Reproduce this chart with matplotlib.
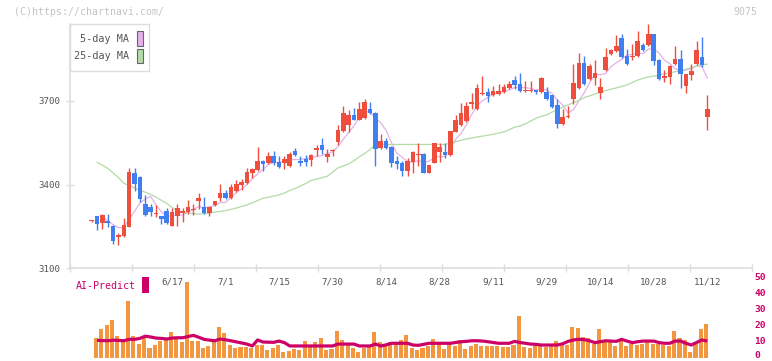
import matplotlib
matplotlib.use("Agg")
import matplotlib.pyplot as plt
import numpy as np
from matplotlib.patches import Rectangle

# ---------------- data ----------------
opens = [3268, 3288, 3263, 3268, 3252, 3213, 3216, 3249, 3441, 3427,
         3330, 3320, 3294, 3288, 3305, 3252, 3288, 3300, 3302, 3310,
         3341, 3320, 3298, 3327, 3352, 3370, 3352, 3377, 3398, 3406,
         3441, 3452, 3485, 3477, 3502, 3481, 3477, 3467, 3520, 3486,
         3492, 3488, 3524, 3542, 3499, 3519, 3553, 3592, 3614, 3650,
         3632, 3638, 3671, 3657, 3531, 3556, 3535, 3485, 3478, 3449,
         3481, 3505, 3510, 3442, 3478, 3517, 3517, 3506, 3589, 3614,
         3628, 3689, 3671, 3724, 3732, 3721, 3724, 3732, 3746, 3775,
         3760, 3734, 3734, 3739, 3732, 3732, 3721, 3685, 3617, 3641,
         3707, 3746, 3835, 3778, 3782, 3728, 3810, 3867, 3878, 3925,
         3860, 3859, 3860, 3900, 3900, 3939, 3846, 3784, 3785, 3832,
         3850, 3753, 3792, 3832, 3857, 3642]
highs = [3272, 3289, 3295, 3295, 3254, 3228, 3280, 3459, 3459, 3431,
         3363, 3330, 3327, 3289, 3316, 3316, 3330, 3316, 3345, 3330,
         3370, 3355, 3321, 3343, 3402, 3381, 3402, 3416, 3420, 3459,
         3458, 3535, 3487, 3517, 3520, 3502, 3502, 3517, 3531, 3502,
         3506, 3510, 3542, 3567, 3528, 3528, 3614, 3682, 3667, 3674,
         3696, 3707, 3696, 3659, 3583, 3567, 3537, 3502, 3485, 3495,
         3520, 3549, 3512, 3472, 3551, 3549, 3549, 3594, 3650, 3692,
         3696, 3728, 3760, 3789, 3746, 3753, 3760, 3760, 3771, 3789,
         3800, 3771, 3771, 3741, 3785, 3750, 3723, 3707, 3671, 3682,
         3832, 3871, 3860, 3832, 3846, 3782, 3889, 3888, 3936, 3939,
         3886, 3904, 3950, 3907, 3975, 3941, 3850, 3810, 3828, 3897,
         3882, 3796, 3832, 3915, 3929, 3721]
lows = [3266, 3238, 3242, 3249, 3187, 3183, 3214, 3247, 3378, 3339,
        3287, 3287, 3284, 3260, 3259, 3250, 3252, 3266, 3295, 3291,
        3312, 3296, 3287, 3325, 3341, 3350, 3350, 3375, 3381, 3404,
        3424, 3450, 3449, 3475, 3470, 3461, 3456, 3465, 3504, 3468,
        3467, 3467, 3502, 3510, 3481, 3502, 3542, 3590, 3589, 3630,
        3630, 3636, 3655, 3467, 3528, 3529, 3463, 3456, 3431, 3431,
        3442, 3467, 3440, 3440, 3476, 3481, 3495, 3504, 3587, 3612,
        3626, 3671, 3669, 3720, 3696, 3719, 3720, 3730, 3744, 3742,
        3732, 3731, 3731, 3725, 3730, 3705, 3676, 3603, 3615, 3639,
        3690, 3744, 3757, 3775, 3757, 3707, 3808, 3864, 3876, 3855,
        3830, 3846, 3858, 3880, 3898, 3828, 3776, 3767, 3760, 3830,
        3746, 3728, 3775, 3830, 3821, 3596]
closes = [3270, 3260, 3291, 3262, 3199, 3219, 3255, 3445, 3402, 3348,
          3291, 3302, 3296, 3277, 3262, 3302, 3316, 3303, 3320, 3313,
          3352, 3298, 3320, 3341, 3370, 3352, 3391, 3402, 3409, 3445,
          3456, 3485, 3474, 3502, 3477, 3463, 3492, 3510, 3506, 3478,
          3482, 3506, 3531, 3524, 3510, 3521, 3596, 3657, 3650, 3632,
          3671, 3696, 3657, 3528, 3556, 3531, 3478, 3474, 3449, 3485,
          3517, 3507, 3442, 3470, 3549, 3535, 3506, 3592, 3632, 3657,
          3682, 3696, 3746, 3726, 3717, 3735, 3737, 3750, 3760, 3757,
          3735, 3736, 3736, 3732, 3782, 3707, 3678, 3617, 3642, 3643,
          3764, 3835, 3760, 3825, 3800, 3750, 3857, 3882, 3897, 3857,
          3832, 3861, 3915, 3882, 3939, 3843, 3778, 3786, 3825, 3850,
          3796, 3796, 3807, 3882, 3828, 3671]
ma5 = [None, None, 3282, 3272, 3256, 3246, 3245, 3276, 3304, 3334,
       3348, 3358, 3328, 3303, 3286, 3288, 3291, 3292, 3301, 3311,
       3321, 3317, 3321, 3325, 3336, 3336, 3355, 3371, 3385, 3400,
       3421, 3439, 3454, 3472, 3479, 3480, 3482, 3489, 3490, 3490,
       3494, 3496, 3501, 3504, 3511, 3518, 3536, 3562, 3587, 3611,
       3641, 3661, 3661, 3637, 3622, 3594, 3550, 3513, 3498, 3483,
       3481, 3486, 3480, 3484, 3497, 3501, 3500, 3530, 3563, 3584,
       3614, 3652, 3683, 3701, 3713, 3724, 3732, 3733, 3740, 3748,
       3748, 3748, 3745, 3739, 3744, 3739, 3727, 3703, 3685, 3657,
       3669, 3700, 3729, 3765, 3797, 3794, 3798, 3823, 3837, 3849,
       3865, 3866, 3872, 3869, 3886, 3888, 3871, 3846, 3834, 3816,
       3807, 3811, 3815, 3826, 3823, 3782]
ma25 = [None, 3480, 3470, 3458, 3442, 3425, 3405, 3397, 3388, 3380,
        3373, 3365, 3355, 3344, 3333, 3318, 3306, 3301, 3298, 3296,
        3294, 3296, 3298, 3302, 3304, 3307, 3311, 3316, 3322, 3327,
        3335, 3343, 3351, 3355, 3359, 3363, 3370, 3379, 3386, 3395,
        3404, 3415, 3420, 3425, 3430, 3445, 3460, 3467, 3474, 3486,
        3500, 3512, 3526, 3544, 3544, 3544, 3544, 3544, 3544, 3544,
        3544, 3544, 3544, 3544, 3544, 3544, 3544, 3549, 3554, 3559,
        3564, 3567, 3571, 3574, 3577, 3581, 3585, 3589, 3597, 3606,
        3610, 3618, 3628, 3638, 3645, 3650, 3660, 3670, 3678, 3686,
        3694, 3702, 3712, 3718, 3725, 3731, 3737, 3742, 3747, 3752,
        3758, 3766, 3775, 3781, 3786, 3789, 3793, 3797, 3801, 3805,
        3809, 3814, 3819, 3826, 3830, 3832]
volume = [None, 12.5, 18.0, 20.6, 23.7, 13.6, 11.1, 36.0, 13.6, 8.5,
          12.5, 6.0, 7.9, 10.4, 11.1, 16.1, 11.9, 9.8, 47.8, 10.4,
          10.4, 6.0, 7.3, 10.4, 19.3, 15.5, 7.9, 6.0, 6.6, 6.6,
          6.0, 7.9, 7.9, 4.7, 6.0, 7.9, 3.5, 4.1, 5.4, 4.7,
          10.4, 7.3, 9.8, 12.3, 4.7, 5.4, 16.8, 11.1, 8.5, 6.0,
          3.5, 6.0, 6.6, 16.3, 9.8, 7.3, 9.8, 9.8, 11.1, 14.2,
          6.2, 4.7, 6.0, 7.3, 11.7, 8.5, 5.4, 8.5, 7.3, 11.1,
          5.4, 7.3, 8.5, 7.3, 7.3, 7.3, 7.3, 6.6, 6.6, 7.9,
          26.3, 6.6, 6.0, 7.3, 7.9, 6.6, 7.3, 10.4, 7.9, 7.9,
          19.3, 18.7, 13.0, 12.3, 8.5, 18.0, 10.4, 9.8, 7.3, 10.4,
          7.3, 8.5, 7.9, 8.5, 11.1, 8.5, 8.5, 7.9, 7.3, 16.8,
          12.3, 11.1, 3.5, 8.5, 18.0, 21.2]
ai_predict = [None, 10.9, 10.7, 10.6, 11.0, 10.8, 10.6, 11.5, 11.5, 12.1,
              13.5, 13.0, 12.3, 12.1, 11.7, 12.3, 12.5, 12.5, 13.3, 14.0,
              12.8, 11.5, 11.0, 10.6, 11.7, 11.2, 10.6, 9.9, 9.2, 8.5,
              7.3, 11.1, 9.8, 9.7, 9.6, 10.4, 9.4, 7.3, 7.3, 7.3,
              7.3, 7.3, 7.3, 7.3, 7.3, 7.3, 8.5, 8.5, 8.5, 8.5,
              7.3, 7.3, 7.3, 8.5, 7.3, 8.0, 9.0, 9.0, 9.0, 9.0,
              7.9, 7.7, 8.3, 9.0, 9.0, 9.0, 9.0, 9.0, 9.5, 10.0,
              10.2, 10.6, 10.6, 10.4, 10.0, 9.5, 9.0, 9.0, 9.0, 10.2,
              9.5, 9.0, 8.5, 8.3, 7.9, 7.9, 7.9, 7.9, 8.7, 10.2,
              11.1, 11.5, 11.3, 10.6, 9.4, 10.0, 10.6, 10.4, 10.2, 11.5,
              10.4, 9.4, 10.0, 10.4, 10.4, 10.4, 9.4, 9.0, 9.0, 10.4,
              10.4, 9.0, 7.9, 9.5, 11.1, 10.4]
date_labels = ["6/17", "7/1", "7/15", "7/30", "8/14", "8/28", "9/11",
               "9/29", "10/14", "10/28", "11/12"]
date_label_pos = [15, 25, 35, 45, 55, 65, 75, 85, 95, 105, 115]
price_ticks = [3100, 3400, 3700]
ai_ticks = [0, 10, 20, 30, 40, 50]
legend_names = ["5-day MA", "25-day MA"]

# ---------------- style ----------------
W, H = 772, 361
RED, BLUE = "#f04e3c", "#3f7ff0"
MA5_C, MA25_C = "#e6b0ea", "#b2dba6"
VOL_C, AI_C = "#f2973f", "#cc0066"
GRID_C = "#dddddd"
MONO = "DejaVu Sans Mono"

def fx(x):
    return x / W

def fy(y):
    return 1 - y / H

fig = plt.figure(figsize=(W / 100, H / 100), dpi=100)
fig.patch.set_facecolor("white")

xlim = (-4.054, 123.35)

# main price axes
ax = fig.add_axes([fx(70), fy(268.3), fx(752) - fx(70), fy(24) - fy(268.3)])
ax.set_xlim(*xlim)
ax.set_ylim(3100, 3976)
for s in ["top", "right"]:
    ax.spines[s].set_visible(False)
for s in ["left", "bottom"]:
    ax.spines[s].set_color(GRID_C)
    ax.spines[s].set_linewidth(1.2)

o = np.array(opens, float)
h = np.array(highs, float)
l = np.array(lows, float)
c = np.array(closes, float)
idx = np.arange(len(c))
up = c >= o
colors = np.where(up, RED, BLUE)

ax.vlines(idx, l, h, colors=colors, linewidth=1.0, zorder=3, clip_on=False)
body_bot = np.minimum(o, c)
body_h = np.maximum(np.abs(c - o), 4.0)
ax.bar(idx, body_h, bottom=body_bot, width=0.86, color=colors,
       linewidth=0, zorder=4, clip_on=False)

ax.plot(idx, np.array(ma5, float), color=MA5_C, lw=0.9, zorder=2)
ax.plot(idx, np.array(ma25, float), color=MA25_C, lw=0.9, zorder=2)

ax.set_yticks(price_ticks)
ax.set_yticklabels([str(t) for t in price_ticks], fontfamily=MONO,
                   fontsize=6.6, color="#555555")
ax.tick_params(axis="y", direction="inout", length=5.8, width=1.0,
               color=GRID_C, pad=4.0)
xt = [xlim[0] + k * (xlim[1] - xlim[0]) / 11 for k in range(12)]
ax.set_xticks(xt)
ax.set_xticklabels([])
ax.tick_params(axis="x", direction="inout", length=5.8, width=1.0,
               color=GRID_C)

# volume / AI panel
axv = fig.add_axes([fx(70), fy(357.5), fx(752) - fx(70), fy(278.5) - fy(357.5)])
axv.set_xlim(*xlim)
axv.set_ylim(0, 50)
for s in axv.spines.values():
    s.set_visible(False)
vol = np.array(volume, float)
axv.bar(idx - 0.2, np.nan_to_num(vol), width=0.76, color=VOL_C, linewidth=0, zorder=2)
axv.plot(idx, np.array(ai_predict, float), color=AI_C, lw=2.3, zorder=3,
         solid_capstyle="butt")
axv.set_xticks([])
axv.set_yticks([])

ytr = axv.get_yaxis_transform()
for t in ai_ticks:
    axv.annotate(str(t), xy=(1.0, t), xycoords=ytr, xytext=(1.5, 1.5 if t == 0 else 0.5),
                 textcoords="offset points", ha="left", va="center",
                 fontfamily=MONO, fontsize=6.8, color=AI_C, fontweight="bold",
                 annotation_clip=False)

for pos, lab in zip(date_label_pos, date_labels):
    axv.text(pos, 47.8, lab, ha="center", va="center", fontfamily=MONO,
             fontsize=6.6, color="#555555", zorder=5)

# AI-Predict label
fig.text(fx(75.5), fy(286), "AI-Predict", ha="left", va="center",
         fontfamily=MONO, fontsize=7.2, color=AI_C)
fig.add_artist(Rectangle((fx(142), fy(292.7)), fx(149) - fx(142),
                         fy(276.7) - fy(292.7), transform=fig.transFigure,
                         facecolor=AI_C, edgecolor="none"))

# watermark & code
fig.text(fx(14), fy(12), "(C)https://chartnavi.com/", ha="left", va="center",
         fontfamily=MONO, fontsize=7.1, color="#c4c4c4")
fig.text(fx(757), fy(12), "9075", ha="right", va="center",
         fontfamily=MONO, fontsize=7.1, color="#c4c4c4")

# legend box
fig.add_artist(Rectangle((fx(70), fy(71)), fx(148.7) - fx(70), fy(24) - fy(71),
                         transform=fig.transFigure, facecolor="white",
                         edgecolor=GRID_C, linewidth=1.0, zorder=10))
for name, col, yc in zip(legend_names, [MA5_C, MA25_C], [38.7, 56.0]):
    fig.text(fx(129.5), fy(yc), name, ha="right", va="center",
             fontfamily=MONO, fontsize=7.3, color="#555555", zorder=11)
    fig.add_artist(Rectangle((fx(136.7), fy(yc + 7.3)), fx(142.7) - fx(136.7),
                             fy(yc - 7.3) - fy(yc + 7.3),
                             transform=fig.transFigure, facecolor=col,
                             edgecolor="#666666", linewidth=0.8, zorder=11))

fig.savefig("out.png", dpi=100, facecolor="white")
